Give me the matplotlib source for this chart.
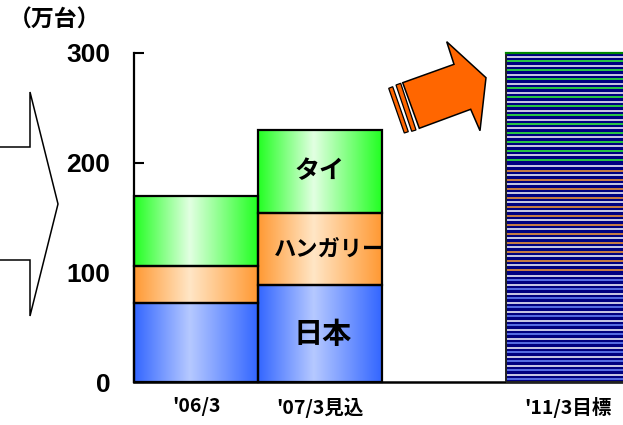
import numpy as np
import matplotlib
matplotlib.use("Agg")
import matplotlib.pyplot as plt
from matplotlib.colors import LinearSegmentedColormap
from matplotlib.patches import Polygon
from matplotlib.transforms import Affine2D

# production capacity (10k units) by site
periods = ["'06/3", "'07/3見込", "'11/3目標"]
japan = [72, 88, 100]
hungary = [34, 66, 100]
thai = [64, 76, 100]
seg_names = ["日本", "ハンガリー", "タイ"]
yticks = [0, 100, 200, 300]

W, H = 623, 425
fig = plt.figure(figsize=(W / 100, H / 100), dpi=100)
ax = fig.add_axes([134 / W, 43 / H, 496 / W, 329 / H])

# pixel coords (origin top-left) -> figure coords
px = Affine2D().scale(1 / W, -1 / H).translate(0, 1) + fig.transFigure

xpos = np.array([0, 1, 3])
edge_cols = ["#3366FF", "#FF9933", "#22FF22"]
mid_cols = ["#B6C9FF", "#FFE6C6", "#E2FFE2"]
stripe_cols = ["#6E8CFF", "#FFA033", "#33FF33"]
segments = [japan, hungary, thai]

bottom = np.zeros(len(periods))
grad = np.linspace(0, 1, 256).reshape(1, -1)
for k, vals in enumerate(segments):
    vals = np.array(vals, dtype=float)
    # gradient bars for the first two periods
    bars = ax.bar(xpos[:2], vals[:2], bottom=bottom[:2], width=1.0,
                  facecolor="none", edgecolor="black", linewidth=1.6,
                  zorder=3, clip_on=False)
    cmap = LinearSegmentedColormap.from_list(
        "g%d" % k, [(0, edge_cols[k]), (0.45, mid_cols[k]), (1, edge_cols[k])])
    for r in bars:
        x0, y0, w, h = r.get_x(), r.get_y(), r.get_width(), r.get_height()
        im = ax.imshow(grad, cmap=cmap, aspect="auto", interpolation="bicubic",
                       extent=[x0, x0 + w, y0, y0 + h], zorder=2)
        im.set_clip_path(r)
    # striped target bar
    tb = ax.bar(xpos[2], vals[2], bottom=bottom[2], width=1.0,
                color="#000080", edgecolor="none", zorder=2, clip_on=False)[0]
    x0, w = tb.get_x(), tb.get_width()
    step = 4.1
    ys = np.arange(bottom[2] + step * 0.6, bottom[2] + vals[2], step)
    cols = [stripe_cols[k] if i % 2 == 0 else "white" for i in range(len(ys))]
    ax.hlines(ys, x0 + 0.012, x0 + w, colors=cols, linewidth=1.1, zorder=3,
              clip_on=False)
    bottom = bottom + vals

# outline of target bar
ax.bar(xpos[2], bottom[2], width=1.0, facecolor="none", edgecolor="#222222",
       linewidth=1.4, zorder=4, clip_on=False)
ax.plot([xpos[2] - 0.5, xpos[2] + 0.5], [bottom[2], bottom[2]],
        color="#008800", lw=1.6, zorder=5, clip_on=False)

# segment names inside the second bar
jp = dict(family=["Noto Sans CJK JP", "DejaVu Sans"], fontweight="bold",
          color="black", ha="center", va="center", zorder=6)
cum = np.cumsum([0, japan[1], hungary[1], thai[1]])
sizes = [21, 16, 18]
offs = [2, 7, 0]
for k, name in enumerate(seg_names):
    ax.annotate(name, (xpos[1], (cum[k] + cum[k + 1]) / 2),
                xytext=(offs[k], 0), textcoords="offset points",
                fontsize=sizes[k], **jp)

ax.set_xlim(-0.5, 3.5)
ax.set_ylim(0, 300)
ax.set_yticks(yticks)
ax.set_yticklabels([str(v) for v in yticks], family="Liberation Sans",
                   fontweight="bold", fontsize=19)
ax.tick_params(axis="y", direction="in", length=7, width=1.5, pad=17)
ax.set_xticks(xpos)
ax.set_xticklabels(periods, family=["Noto Sans CJK JP", "DejaVu Sans"],
                   fontweight="bold", fontsize=14)
ax.tick_params(axis="x", length=0, pad=11)
for s in ["top", "right"]:
    ax.spines[s].set_visible(False)
ax.spines["left"].set_linewidth(1.6)
ax.spines["bottom"].set_linewidth(1.8)
ax.set_facecolor("none")

fig.text(55, 20, "（万台）", transform=px, ha="center", va="center",
         fontsize=16.5, fontweight="bold",
         family=["Noto Sans CJK JP", "DejaVu Sans"])

# chevron on the left edge
chev = [(-3, 147), (30, 147), (30, 92), (58, 204), (30, 316), (30, 260), (-3, 260)]
fig.patches.append(Polygon(chev, closed=False, fill=False, edgecolor="black",
                           linewidth=1.1, transform=px))

# orange arrow pointing up-right
arrow = [(446.7, 41.7), (486, 77.7), (480, 130.7), (470.7, 109.3),
         (419.3, 128.3), (402.7, 82.7), (454, 64.3)]
fig.patches.append(Polygon(arrow, closed=True, facecolor="#FF6600",
                           edgecolor="black", linewidth=1.1, transform=px))
for band in [[(396, 85), (400.7, 83.3), (416, 130), (411.7, 131.3)],
             [(388.7, 88.3), (392.7, 86.7), (408.3, 131.7), (404.3, 133)]]:
    fig.patches.append(Polygon(band, closed=True, facecolor="#FF6600",
                               edgecolor="black", linewidth=0.9, transform=px))

fig.savefig("out.png", dpi=100)
